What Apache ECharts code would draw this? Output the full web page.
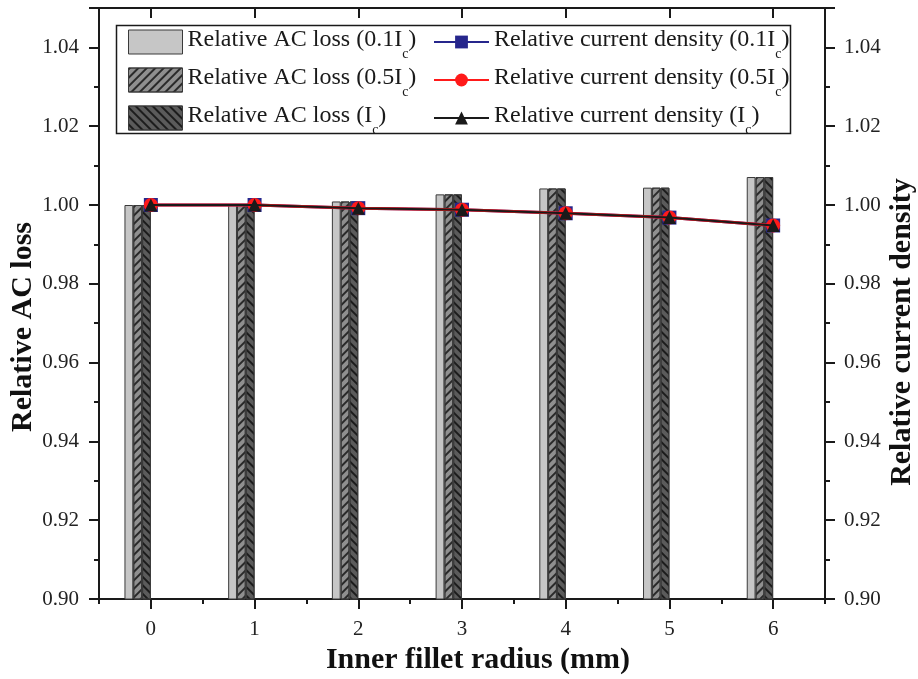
<!DOCTYPE html>
<html>
<head>
<meta charset="utf-8">
<script src="https://cdn.jsdelivr.net/npm/echarts@6/dist/echarts.min.js"></script>
<style>
  html, body { margin: 0; padding: 0; background: #fff; }
  #chart { width: 918px; height: 679px; }
</style>
</head>
<body>
<div id="chart"></div>
<script>
// Inner fillet radius (mm)
const radii = [0, 1, 2, 3, 4, 5, 6];

// Relative AC loss for three transport currents
const acLoss01 = [1.0000, 1.0001, 1.0009, 1.0027, 1.0042, 1.0044, 1.0071];
const acLoss05 = [1.0000, 1.0001, 1.0009, 1.0027, 1.0042, 1.0044, 1.0071];
const acLossIc = [1.0000, 1.0001, 1.0009, 1.0027, 1.0042, 1.0044, 1.0071];

// Relative current density for three transport currents
const density01 = [1.0000, 1.0000, 0.9992, 0.9988, 0.9979, 0.9968, 0.9948];
const density05 = [1.0000, 1.0000, 0.9992, 0.9988, 0.9979, 0.9968, 0.9948];
const densityIc = [1.0000, 1.0000, 0.9992, 0.9988, 0.9979, 0.9968, 0.9948];

// Axis ticks
const xTickValues = [0, 1, 2, 3, 4, 5, 6];
const xMinorValues = [-0.5, 0.5, 1.5, 2.5, 3.5, 4.5, 5.5, 6.5];

// Axis titles
const xTitle = 'Inner fillet radius (mm)';
const yLeftTitle = 'Relative AC loss';
const yRightTitle = 'Relative current density';

// Legend captions: [text before subscript, subscript, text after]
const lossNames = [
  ['Relative AC loss (0.1I', 'c', ')'],
  ['Relative AC loss (0.5I', 'c', ')'],
  ['Relative AC loss (I', 'c', ')']
];
const densityNames = [
  ['Relative current density (0.1I', 'c', ')'],
  ['Relative current density (0.5I', 'c', ')'],
  ['Relative current density (I', 'c', ')']
];

const SERIF = '"Liberation Serif", "Times New Roman", serif';
const gridBox = { left: 99, right: 93, top: 8, bottom: 80 };
const plotWidth = 918 - gridBox.left - gridBox.right;
const xMin = -0.5, xMax = 6.5;
const barW = 8.8;
// the bar group sits just left of each radius value
const barShift = 1.5 * barW / (plotWidth / (xMax - xMin));

const joinName = p => p.join('');
const richLabel = p => '{t|' + p[0] + '}{s|' + p[1] + '}{t|' + p[2] + '}';
const nameMap = {};
lossNames.concat(densityNames).forEach(p => { nameMap[joinName(p)] = richLabel(p); });

const legendRich = {
  t: { fontFamily: SERIF, fontSize: 24, color: '#1a1a1a', lineHeight: 28, verticalAlign: 'top' },
  s: { fontFamily: SERIF, fontSize: 14, color: '#1a1a1a', lineHeight: 14, verticalAlign: 'top', padding: [19, 0, 0, 0] }
};

const barFills = ['#c6c6c6', '#8f8f8f', '#5b5b5b'];
const barDecals = [
  null,
  { symbol: 'rect', symbolSize: 1, dashArrayX: [1, 0], dashArrayY: [1.4, 3.6], rotation: -Math.PI / 4, color: '#2a2a2a' },
  { symbol: 'rect', symbolSize: 1, dashArrayX: [1, 0], dashArrayY: [1.4, 3.6], rotation: Math.PI / 4, color: '#1c1c1c' }
];
const lossData = [acLoss01, acLoss05, acLossIc];

const barSeries = lossData.map((vals, i) => ({
  type: 'bar',
  name: joinName(lossNames[i]),
  xAxisIndex: 1,
  yAxisIndex: 0,
  barWidth: barW,
  barGap: '0%',
  data: radii.map((r, k) => [r, vals[k]]),
  itemStyle: Object.assign(
    { color: barFills[i], borderColor: '#3a3a3a', borderWidth: 1 },
    barDecals[i] ? { decal: barDecals[i] } : {}
  ),
  emphasis: { disabled: true },
  z: 2
}));

const lineColors = ['#26268c', '#ff1a1a', '#1a1a1a'];
const lineSymbols = ['rect', 'circle', 'triangle'];
const densityData = [density01, density05, densityIc];

const lineSeries = densityData.map((vals, i) => ({
  type: 'line',
  name: joinName(densityNames[i]),
  xAxisIndex: 0,
  yAxisIndex: 1,
  data: radii.map((r, k) => [r, vals[k]]),
  symbol: lineSymbols[i],
  symbolSize: i === 2 ? 13 : 14,
  showAllSymbol: true,
  lineStyle: { color: lineColors[i], width: i === 2 ? 2 : 3 },
  itemStyle: { color: lineColors[i] },
  emphasis: { disabled: true },
  z: 3 + i
}));

const titleFont = { fontFamily: SERIF, fontSize: 30, fontWeight: 'bold', fill: '#111', align: 'center', verticalAlign: 'middle' };

const yCommon = {
  type: 'value',
  min: 0.90,
  max: 1.05,
  interval: 0.02,
  splitLine: { show: false },
  axisLine: { show: true, onZero: false, lineStyle: { color: '#1a1a1a', width: 2 } },
  axisTick: { show: true, inside: false, length: 10, lineStyle: { color: '#1a1a1a', width: 2 } },
  minorTick: { show: true, splitNumber: 2, length: 5, lineStyle: { color: '#1a1a1a', width: 2 } }
};
const yLabel = margin => ({
  show: true, margin: margin, fontFamily: SERIF, fontSize: 21, color: '#222',
  showMaxLabel: false,
  formatter: v => v.toFixed(2)
});

const chart = echarts.init(document.getElementById('chart'), null, { renderer: 'canvas' });

chart.setOption({
  animation: false,
  backgroundColor: '#fff',
  grid: Object.assign({ containLabel: false, outerBoundsMode: 'none' }, gridBox),
  xAxis: [
    {
      type: 'value', position: 'bottom', min: xMin, max: xMax,
      splitLine: { show: false },
      axisLine: { show: true, onZero: false, lineStyle: { color: '#1a1a1a', width: 2 } },
      axisTick: { show: true, inside: false, length: 10, customValues: xTickValues, lineStyle: { color: '#1a1a1a', width: 2 } },
      axisLabel: { show: true, margin: 20, fontFamily: SERIF, fontSize: 21, color: '#222', customValues: xTickValues }
    },
    {
      type: 'value', position: 'bottom',
      min: xMin + barShift, max: xMax + barShift,
      show: false,
      axisLine: { onZero: false }
    },
    {
      type: 'value', position: 'top', min: xMin, max: xMax,
      splitLine: { show: false },
      axisLine: { show: true, onZero: false, lineStyle: { color: '#1a1a1a', width: 2 } },
      axisTick: { show: true, inside: true, length: 10, customValues: xTickValues, lineStyle: { color: '#1a1a1a', width: 2 } },
      axisLabel: { show: false }
    },
    {
      type: 'value', position: 'bottom', min: xMin, max: xMax,
      splitLine: { show: false },
      axisLine: { show: false, onZero: false },
      axisTick: { show: true, inside: false, length: 5, customValues: xMinorValues, lineStyle: { color: '#1a1a1a', width: 2 } },
      axisLabel: { show: false }
    }
  ],
  yAxis: [
    Object.assign({}, yCommon, { position: 'left', axisLabel: yLabel(20) }),
    Object.assign({}, yCommon, { position: 'right', axisLabel: yLabel(19) })
  ],
  legend: [
    {
      orient: 'vertical',
      left: 123, top: 23,
      icon: 'rect',
      itemWidth: 54, itemHeight: 24, itemGap: 5,
      itemStyle: { borderWidth: 1, borderColor: '#3a3a3a' },
      data: lossNames.map(joinName),
      formatter: n => nameMap[n],
      textStyle: { fontFamily: SERIF, fontSize: 24, color: '#1a1a1a', rich: legendRich },
      selectedMode: false
    },
    {
      orient: 'vertical',
      left: 428, top: 23,
      itemWidth: 55, itemHeight: 16, itemGap: 5,
      data: densityNames.map(joinName),
      formatter: n => nameMap[n],
      textStyle: { fontFamily: SERIF, fontSize: 24, color: '#1a1a1a', rich: legendRich },
      selectedMode: false
    }
  ],
  graphic: [
    {
      type: 'rect',
      shape: { x: 116.5, y: 25.5, width: 674, height: 108 },
      style: { fill: 'none', stroke: '#1a1a1a', lineWidth: 1.5 },
      z: 1
    },
    { type: 'text', x: 478, y: 660, style: Object.assign({ text: xTitle }, titleFont) },
    { type: 'text', x: 23, y: 327, rotation: Math.PI / 2, style: Object.assign({ text: yLeftTitle }, titleFont) },
    { type: 'text', x: 902, y: 332, rotation: Math.PI / 2, style: Object.assign({ text: yRightTitle }, titleFont) }
  ],
  series: barSeries.concat(lineSeries)
});
</script>
</body>
</html>
